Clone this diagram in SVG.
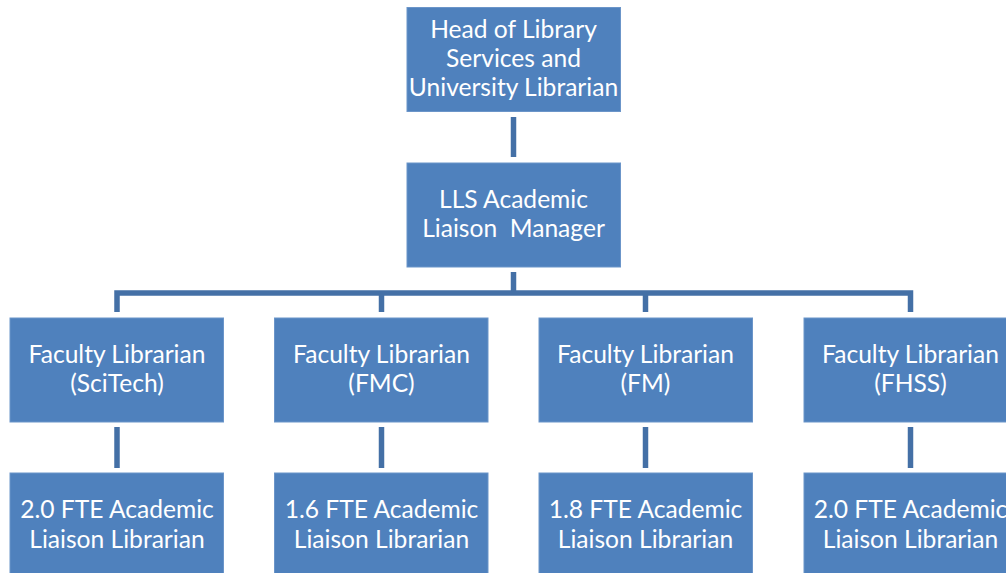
<svg xmlns="http://www.w3.org/2000/svg" width="1006" height="573" viewBox="0 0 1006 573">
<style>
.box{fill:#4F81BD;stroke:#6B95C9;stroke-width:1}
.t{fill:#ffffff;font-family:Lato,"Open Sans","Liberation Sans",sans-serif;font-size:24.6px;text-anchor:middle;white-space:pre}
.c{fill:none;stroke:#4470A6;stroke-width:5.5}
</style>
<rect width="1006" height="573" fill="#ffffff"/>
<g id="connectors">
<line class="c" x1="513.5" y1="117" x2="513.5" y2="157"/>
<line class="c" x1="513.5" y1="272" x2="513.5" y2="293"/>
<polyline class="c" points="117,312 117,293 910.5,293 910.5,312"/>
<line class="c" x1="381.5" y1="293" x2="381.5" y2="312"/>
<line class="c" x1="645.5" y1="293" x2="645.5" y2="312"/>
<line class="c" x1="117" y1="427" x2="117" y2="468"/>
<line class="c" x1="381.5" y1="427" x2="381.5" y2="468"/>
<line class="c" x1="645.5" y1="427" x2="645.5" y2="468"/>
<line class="c" x1="910.5" y1="427" x2="910.5" y2="468"/>
</g>
<g id="head">
<rect class="box" x="407" y="7.5" width="213.5" height="104"/>
<text class="t" x="513.5" y="38">Head of Library</text>
<text class="t" x="513.5" y="67">Services and</text>
<text class="t" x="513.5" y="96">University Librarian</text>
</g>
<g id="manager">
<rect class="box" x="407" y="163" width="213.5" height="104"/>
<text class="t" x="513.5" y="208">LLS Academic</text>
<text class="t" x="513.5" y="237">Liaison  Manager</text>
</g>
<g id="fl-scitech">
<rect class="box" x="10" y="318" width="213.5" height="104"/>
<text class="t" x="117" y="363">Faculty Librarian</text>
<text class="t" x="117" y="392">(SciTech)</text>
</g>
<g id="fl-fmc">
<rect class="box" x="274.5" y="318" width="213.5" height="104"/>
<text class="t" x="381.5" y="363">Faculty Librarian</text>
<text class="t" x="381.5" y="392">(FMC)</text>
</g>
<g id="fl-fm">
<rect class="box" x="539" y="318" width="213.5" height="104"/>
<text class="t" x="645.5" y="363">Faculty Librarian</text>
<text class="t" x="645.5" y="392">(FM)</text>
</g>
<g id="fl-fhss">
<rect class="box" x="804" y="318" width="213.5" height="104"/>
<text class="t" x="910.5" y="363">Faculty Librarian</text>
<text class="t" x="910.5" y="392">(FHSS)</text>
</g>
<g id="al-scitech">
<rect class="box" x="10" y="473" width="213.5" height="104"/>
<text class="t" x="117" y="518">2.0 FTE Academic</text>
<text class="t" x="117" y="548">Liaison Librarian</text>
</g>
<g id="al-fmc">
<rect class="box" x="274.5" y="473" width="213.5" height="104"/>
<text class="t" x="381.5" y="518">1.6 FTE Academic</text>
<text class="t" x="381.5" y="548">Liaison Librarian</text>
</g>
<g id="al-fm">
<rect class="box" x="539" y="473" width="213.5" height="104"/>
<text class="t" x="645.5" y="518">1.8 FTE Academic</text>
<text class="t" x="645.5" y="548">Liaison Librarian</text>
</g>
<g id="al-fhss">
<rect class="box" x="804" y="473" width="213.5" height="104"/>
<text class="t" x="910.5" y="518">2.0 FTE Academic</text>
<text class="t" x="910.5" y="548">Liaison Librarian</text>
</g>
</svg>
